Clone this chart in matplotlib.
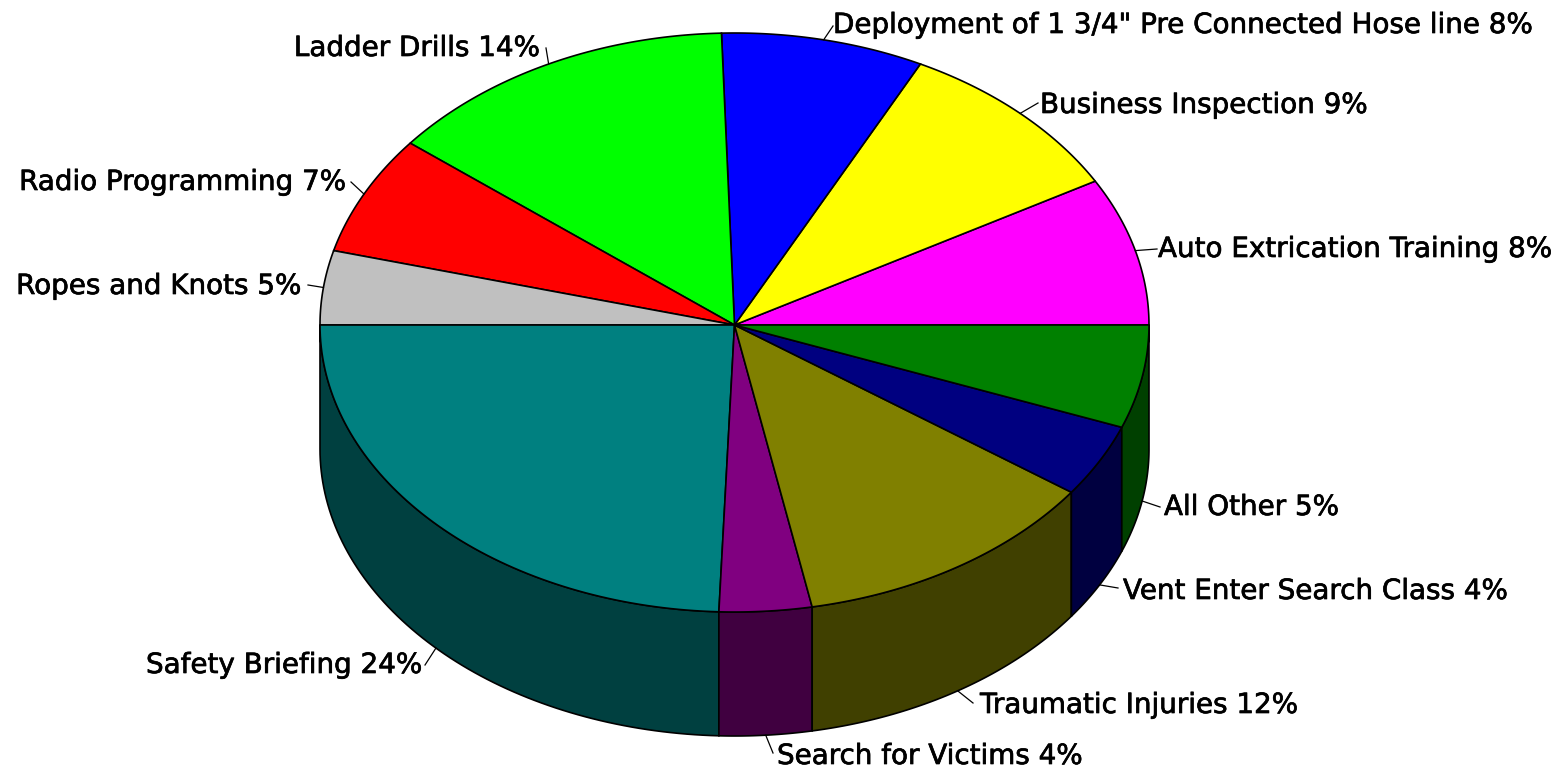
# 3D looking pie of training hours, old spreadsheet style
import numpy as np
import matplotlib
matplotlib.use('Agg')
import matplotlib.pyplot as plt
import matplotlib.patheffects as pe

# counter clockwise from 3 o'clock
labels = ['Auto Extrication Training 8%', 'Business Inspection 9%',
          'Deployment of 1 3/4" Pre Connected Hose line 8%', 'Ladder Drills 14%',
          'Radio Programming 7%', 'Ropes and Knots 5%', 'Safety Briefing 24%',
          'Search for Victims 4%', 'Traumatic Injuries 12%',
          'Vent Enter Search Class 4%', 'All Other 5%']
# slice shares as measured on the drawing (the printed labels are rounded differently)
shares = [8.2, 9.4, 7.9, 13.8, 6.6, 4.1, 24.4, 3.6, 12.1, 4.1, 5.8]
colors = ['#ff00ff', '#ffff00', '#0000ff', '#00ff00', '#ff0000', '#c0c0c0',
          '#008080', '#800080', '#808000', '#000080', '#008000']
side_colors = ['#800080', '#808000', '#000080', '#008000', '#800000', '#606060',
               '#004040', '#400040', '#404000', '#000040', '#004000']

# label placement: text x, text y, alignment, leader end
label_x = [1158, 1040, 833, 540, 346, 301, 422, 777, 980, 1123, 1164]
label_y = [249, 105, 25, 48, 182, 286, 665, 756, 705, 591, 507]
label_ha = ['left', 'left', 'left', 'right', 'right', 'right', 'right', 'left', 'left', 'left', 'left']
leader_x = [1157, 1038, 833, 546, 351, 308, 425, 773, 973, 1118, 1160]
leader_y = [249, 103, 26, 48, 182, 285, 665, 753, 703, 588, 507]

cx, cy = 734.5, 325
rx = 414.5
ry_top, ry_bottom = 292, 287
depth = 124

fig = plt.figure(figsize=(15.58, 7.69), dpi=100)
ax = fig.add_axes([0, 0, 1, 1])
ax.set_xlim(0, 1558)
ax.set_ylim(769, 0)
ax.axis('off')

edges = np.cumsum([0] + shares) / sum(shares) * 2 * np.pi


def rim(t):
    s = np.sin(t)
    return cx + rx * np.cos(t), cy - np.where(s > 0, ry_top, ry_bottom) * s


# side walls first, only the part of the rim facing the viewer
for i in range(len(shares)):
    t0, t1 = edges[i], edges[i + 1]
    if t1 <= np.pi:
        continue
    t = np.linspace(t0, t1, 80)
    x, y = rim(t)
    ax.fill(np.r_[x, x[::-1]], np.r_[y, y[::-1] + depth], fc=side_colors[i], ec='black', lw=1.2, zorder=1)

# top surface
for i in range(len(shares)):
    t = np.linspace(edges[i], edges[i + 1], 80)
    x, y = rim(t)
    ax.fill(np.r_[cx, x], np.r_[cy, y], fc=colors[i], ec='black', lw=1.2, zorder=2)

# labels with small leader lines
for i in range(len(labels)):
    mid = (edges[i] + edges[i + 1]) / 2
    x0, y0 = rim(mid)
    if mid > np.pi:
        y0 += depth
    ax.plot([x0, leader_x[i]], [y0, leader_y[i]], color='black', lw=0.9, zorder=3)
    ax.text(label_x[i], label_y[i], labels[i], ha=label_ha[i], va='center', fontsize=20,
            family='DejaVu Sans', color='black', zorder=4,
            path_effects=[pe.withStroke(linewidth=0.5, foreground='black')])

fig.savefig('out.png', dpi=100)
